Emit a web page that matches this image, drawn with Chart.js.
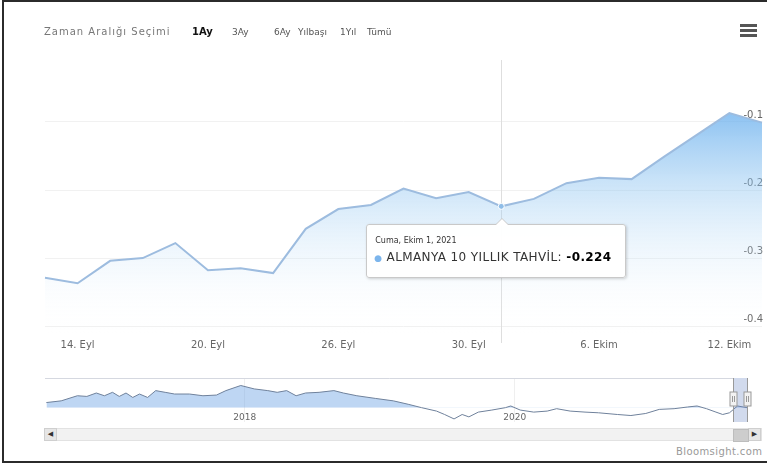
<!DOCTYPE html>
<html>
<head>
<meta charset="utf-8">
<script src="https://cdn.jsdelivr.net/npm/chart.js@4.4.1/dist/chart.umd.min.js"></script>
<style>
  html, body { margin: 0; padding: 0; background: #fff; width: 767px; height: 468px; overflow: hidden; font-family: "DejaVu Sans", Verdana, sans-serif; }
  #frame { position: absolute; left: 2px; top: 0; width: 800px; height: 459px; border: 2px solid #2b2b2b; border-right: none; }
  canvas { position: absolute; left: 0; }
  #main { top: 0; }
  #nav { top: 372px; }
  .rs { position: absolute; top: 27px; font-size: 9px; color: #555; white-space: nowrap; }
  .rs.lbl { color: #777; font-size: 10px; letter-spacing: 1px; top: 26px; }
  .rs.on { font-weight: bold; color: #111; font-size: 10px; top: 26px; }
  #menu { position: absolute; left: 740px; top: 24px; width: 17px; }
  #menu div { height: 3px; background: #555; margin-bottom: 2px; }
  #tip { position: absolute; width: 258px; height: 52px; background: rgba(255,255,255,0.96); border: 1px solid #c9c9c9; border-radius: 3px; box-shadow: 1px 1px 3px rgba(0,0,0,0.18); color: #333; }
  #tip:before { content: ""; position: absolute; top: -7px; left: var(--nx); border: 7px solid transparent; border-top: none; border-bottom-color: #c9c9c9; }
  #tip:after { content: ""; position: absolute; top: -6px; left: var(--nx); border: 7px solid transparent; border-top: none; border-bottom-color: #fff; }
  #tipTitle { position: absolute; left: 8px; top: 11px; font-size: 8px; }
  #tipBody { position: absolute; left: 7px; top: 25px; font-size: 12px; letter-spacing: 0.4px; white-space: nowrap; }
  #tipBody .dot { color: #7cb5ec; font-size: 9px; margin-right: 4px; }
  #tipBody b { color: #000; }
  #scroll { position: absolute; left: 44px; top: 428px; width: 716px; height: 11px; background: #f2f2f2; border: 1px solid #e2e2e2; }
  .btn { position: absolute; top: 428px; width: 11px; height: 11px; background: #e6e6e6; border: 1px solid #cfcfcf; font-size: 7px; line-height: 11px; text-align: center; color: #333; }
  #thumb { position: absolute; top: 429px; height: 11px; background: #cdcdcd; border: 1px solid #bdbdbd; }
  #credit { position: absolute; left: 676px; top: 446px; font-size: 10px; letter-spacing: 0.4px; color: #999; }
</style>
</head>
<body>
<div id="frame"></div>
<canvas id="main" width="767" height="360"></canvas>
<canvas id="nav" width="767" height="50"></canvas>
<div class="rs lbl" style="left:44px">Zaman Aralığı Seçimi</div>
<div class="rs on" style="left:192px">1Ay</div>
<div class="rs" style="left:232px">3Ay</div>
<div class="rs" style="left:274px">6Ay</div>
<div class="rs" style="left:298px">Yılbaşı</div>
<div class="rs" style="left:340px">1Yıl</div>
<div class="rs" style="left:367px">Tümü</div>
<div id="menu"><div></div><div></div><div></div></div>
<div id="scroll"></div>
<div class="btn" style="left:44px">&#9664;</div>
<div class="btn" style="left:748px">&#9654;</div>
<div id="thumb"></div>
<div id="credit">Bloomsight.com</div>
<div id="tip"><div id="tipTitle"></div><div id="tipBody"></div></div>
<script>
// ana grafik: son 1 ay, işlem günleri
const dates = ["13 Eyl", "14 Eyl", "15 Eyl", "16 Eyl", "17 Eyl", "20 Eyl", "21 Eyl", "22 Eyl", "23 Eyl", "24 Eyl",
  "27 Eyl", "28 Eyl", "29 Eyl", "30 Eyl", "1 Eki", "4 Eki", "5 Eki", "6 Eki", "7 Eki", "8 Eki", "11 Eki", "12 Eki", "13 Eki"];
const yields = [-0.329, -0.337, -0.304, -0.300, -0.278, -0.318, -0.315, -0.322, -0.257, -0.228,
  -0.222, -0.198, -0.212, -0.203, -0.224, -0.213, -0.190, -0.182, -0.184, -0.151, -0.119, -0.087, -0.101];
const xTickIndex = [1, 5, 9, 13, 17, 21];
const xTickLabels = ["14. Eyl", "20. Eyl", "26. Eyl", "30. Eyl", "6. Ekim", "12. Ekim"];
const yTicks = [-0.4, -0.3, -0.2, -0.1];
const seriesName = "ALMANYA 10 YILLIK TAHVİL";
const activeIndex = 14;
const activeTitle = "Cuma, Ekim 1, 2021";

// navigator: uzun dönem seri
const navYears = [2016.53, 2016.64, 2016.76, 2016.83, 2016.90, 2016.96, 2017.02, 2017.07, 2017.12, 2017.17,
  2017.22, 2017.28, 2017.34, 2017.41, 2017.48, 2017.59, 2017.69, 2017.79, 2017.86, 2017.97,
  2018.07, 2018.17, 2018.24, 2018.31, 2018.38, 2018.45, 2018.55, 2018.66, 2018.73, 2018.83,
  2018.97, 2019.10, 2019.21, 2019.31, 2019.42, 2019.48, 2019.55, 2019.61, 2019.66, 2019.73,
  2019.83, 2019.93, 2019.97, 2020.04, 2020.14, 2020.24, 2020.31, 2020.41, 2020.52, 2020.62,
  2020.76, 2020.86, 2020.97, 2021.07, 2021.18, 2021.28, 2021.35, 2021.42, 2021.49, 2021.54,
  2021.59, 2021.65, 2021.72];
const navValues = [0.10, 0.15, 0.30, 0.28, 0.38, 0.30, 0.40, 0.28, 0.38, 0.25,
  0.35, 0.25, 0.45, 0.40, 0.35, 0.35, 0.30, 0.32, 0.45, 0.60,
  0.50, 0.45, 0.40, 0.45, 0.30, 0.38, 0.40, 0.45, 0.38, 0.30,
  0.22, 0.15, 0.05, -0.05, -0.15, -0.25, -0.38, -0.25, -0.32, -0.18,
  -0.12, -0.05, 0.00, -0.12, -0.18, -0.15, -0.08, -0.15, -0.18, -0.20,
  -0.25, -0.28, -0.22, -0.10, -0.08, -0.03, 0.00, -0.08, -0.18, -0.25,
  -0.20, 0.00, -0.05];
const navTicks = [2018, 2020];
const navRange = [2021.62, 2021.72];

const crosshair = {
  id: "crosshair",
  beforeDatasetsDraw(chart) {
    const x = Math.round(chart.scales.x.getPixelForValue(activeIndex)) + 0.5;
    const a = chart.chartArea;
    const ctx = chart.ctx;
    ctx.save();
    ctx.strokeStyle = "#dedede";
    ctx.lineWidth = 1;
    ctx.beginPath();
    ctx.moveTo(x, a.top);
    ctx.lineTo(x, a.bottom + 8);
    ctx.stroke();
    ctx.restore();
  }
};

const mainChart = new Chart(document.getElementById("main"), {
  type: "line",
  data: {
    labels: dates,
    datasets: [{
      label: seriesName,
      data: yields,
      borderColor: "#9dbcdf",
      borderWidth: 2,
      tension: 0,
      fill: "start",
      backgroundColor: ctx => {
        const a = ctx.chart.chartArea;
        if (!a) return "rgba(124,181,236,0.3)";
        const g = ctx.chart.ctx.createLinearGradient(0, a.top, 0, a.bottom);
        g.addColorStop(0, "rgba(70,155,235,0.95)");
        g.addColorStop(0.45, "rgba(140,195,240,0.45)");
        g.addColorStop(1, "rgba(255,255,255,0)");
        return g;
      },
      pointRadius: dates.map((d, i) => i === activeIndex ? 3 : 0),
      pointBackgroundColor: "#8fbde8",
      pointBorderColor: "#ffffff",
      pointBorderWidth: 1
    }]
  },
  options: {
    responsive: false,
    animation: false,
    layout: { padding: { left: 45, right: 5, top: 60, bottom: 0 } },
    plugins: { legend: { display: false }, tooltip: { enabled: false } },
    scales: {
      x: {
        grid: { display: false },
        border: { display: false },
        ticks: {
          autoSkip: false, maxRotation: 0, padding: -4, color: "#666",
          font: { size: 10, family: "DejaVu Sans" },
          callback: (v, i) => {
            const k = xTickIndex.indexOf(i);
            return k < 0 ? "" : xTickLabels[k];
          }
        },
        afterFit: s => { s.height = 25; }
      },
      y: {
        position: "right",
        min: -0.413,
        max: -0.009,
        grid: { color: "#f1f1f1", drawTicks: false },
        border: { display: false },
        ticks: {
          mirror: true, padding: 1, labelOffset: -7, color: "#666",
          font: { size: 10, family: "DejaVu Sans" },
          callback: v => v.toFixed(1)
        },
        afterBuildTicks: s => { s.ticks = yTicks.map(v => ({ value: v })); },
        afterFit: s => { s.width = 0; }
      }
    }
  },
  plugins: [crosshair]
});

// tooltip kutusu
const pt = mainChart.getDatasetMeta(0).data[activeIndex];
const tip = document.getElementById("tip");
tip.style.left = (pt.x - 135) + "px";
tip.style.top = (pt.y + 18) + "px";
tip.style.setProperty("--nx", (135 - 7) + "px");
document.getElementById("tipTitle").textContent = activeTitle;
document.getElementById("tipBody").innerHTML =
  '<span class="dot">\u25CF</span>' + seriesName + ": <b>" + yields[activeIndex].toFixed(3) + "</b>";

const navMask = {
  id: "navMask",
  afterDraw(chart) {
    const s = chart.scales.x;
    const a = chart.chartArea;
    const ctx = chart.ctx;
    const x1 = Math.round(s.getPixelForValue(navRange[0])) + 0.5;
    const x2 = Math.round(s.getPixelForValue(navRange[1])) + 0.5;
    ctx.save();
    // yıl etiketleri
    ctx.fillStyle = "#666";
    ctx.font = "9px 'DejaVu Sans'";
    ctx.textAlign = "center";
    ctx.textBaseline = "middle";
    navTicks.forEach(v => ctx.fillText(String(v), s.getPixelForValue(v), a.bottom - 4));
    ctx.fillStyle = "rgba(102,133,194,0.3)";
    ctx.fillRect(x1, a.top, x2 - x1, a.bottom - a.top);
    ctx.strokeStyle = "#d5d8e0";
    ctx.lineWidth = 1;
    ctx.beginPath();
    ctx.moveTo(a.left, a.top + 0.5); ctx.lineTo(x1, a.top + 0.5);
    ctx.moveTo(x2, a.top + 0.5); ctx.lineTo(a.right, a.top + 0.5);
    ctx.stroke();
    ctx.strokeStyle = "#999";
    [x1, x2].forEach(x => {
      ctx.beginPath();
      ctx.moveTo(x, a.top); ctx.lineTo(x, a.bottom);
      ctx.stroke();
      ctx.fillStyle = "#f2f2f2";
      ctx.fillRect(x - 3.5, a.top + 14, 7, 14);
      ctx.strokeRect(x - 3.5, a.top + 14, 7, 14);
      ctx.beginPath();
      ctx.moveTo(x - 1, a.top + 18); ctx.lineTo(x - 1, a.top + 24);
      ctx.moveTo(x + 1, a.top + 18); ctx.lineTo(x + 1, a.top + 24);
      ctx.stroke();
    });
    ctx.restore();
    const thumb = document.getElementById("thumb");
    thumb.style.left = (x1 - 1) + "px";
    thumb.style.width = (x2 - x1) + "px";
  }
};

new Chart(document.getElementById("nav"), {
  type: "line",
  data: {
    datasets: [{
      data: navYears.map((x, i) => ({ x: x, y: navValues[i] })),
      borderColor: "#6f819b",
      borderWidth: 1,
      pointRadius: 0,
      tension: 0,
      fill: { target: { value: -0.05 }, above: "rgba(110,165,228,0.45)", below: "rgba(0,0,0,0)" }
    }]
  },
  options: {
    responsive: false,
    animation: false,
    layout: { padding: { left: 45, right: 20, top: 6, bottom: 0 } },
    plugins: { legend: { display: false }, tooltip: { enabled: false } },
    scales: {
      x: {
        type: "linear",
        min: 2016.52,
        max: 2021.72,
        grid: { color: "#efefef", drawTicks: false },
        border: { display: false },
        ticks: { display: false },
        afterBuildTicks: s => { s.ticks = navTicks.map(v => ({ value: v })); },
        afterFit: s => { s.height = 0; }
      },
      y: { display: false, min: -0.47, max: 0.82 }
    }
  },
  plugins: [navMask]
});
</script>
</body>
</html>
